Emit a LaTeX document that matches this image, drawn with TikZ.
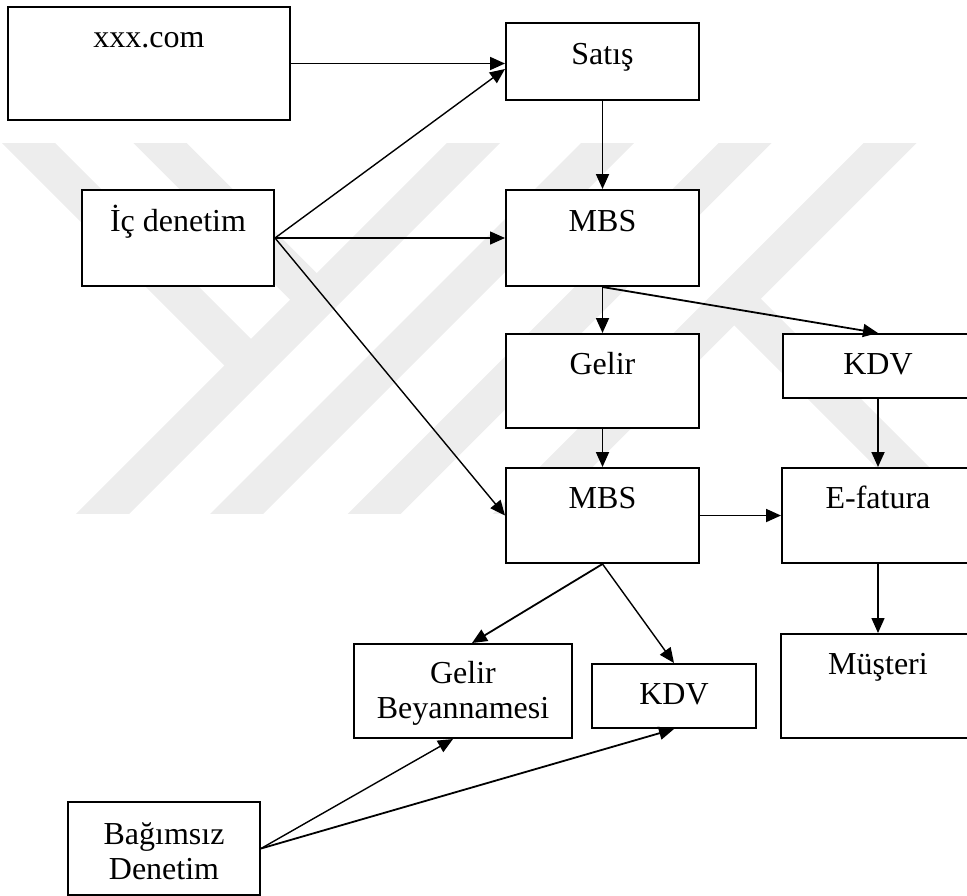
\documentclass[tikz,border=0pt]{standalone}
\usepackage{fontspec}
\setmainfont{Liberation Serif}
\usetikzlibrary{arrows.meta}
\definecolor{wmgray}{gray}{0.93}
\newcommand\stacklbl[2]{\begin{tabular}[t]{@{}c@{}}#1\\#2\end{tabular}}
\begin{document}
\begin{tikzpicture}[x=0.5pt,y=-0.5pt,
  font=\fontsize{16pt}{17.5pt}\selectfont,
  box/.style={draw, fill=white, line width=1pt, inner sep=0pt, anchor=north},
  flow/.style={-{Triangle[length=7.5pt,width=6.5pt]}, line width=0.9pt},
  thinflow/.style={flow, line width=0.7pt},
  band/.style={draw=wmgray, line width=18.75pt}]
\useasboundingbox (0,0) rectangle (967,895);

% background emblem: diagonal light-grey bands
\begin{scope}
  \clip (0,143) rectangle (967,513);
  \draw[band] (83.5,533) -- (493.5,123);
  \draw[band] (217.5,533) -- (627.5,123);
  \draw[band] (355,533) -- (765,123);
  \draw[band] (500,533) -- (910,123);
  \draw[band] (8.5,123) -- (251,365.5);
  \draw[band] (140,123) -- (316.75,299.75);
  \draw[band] (734.25,298.75) -- (1000,564.5);
\end{scope}

% boxes
\node[box, minimum width=141pt, text height=20pt,   text depth=36.5pt] (xxx)   at (149,6)    {xxx.com};
\node[box, minimum width=96.5pt, text height=20.5pt, text depth=18pt]  (satis) at (602.5,22)  {Satış};
\node[box, minimum width=96pt,  text height=20.5pt, text depth=27.5pt] (ic)    at (178,189)  {İç denetim};
\node[box, minimum width=96.5pt, text height=20.5pt, text depth=27.5pt] (mbs1) at (602.5,189) {MBS};
\node[box, minimum width=96.5pt, text height=20pt,   text depth=27pt]  (gelir) at (602.5,333) {Gelir};
\node[box, minimum width=95pt,  text height=20pt,   text depth=12pt]  (kdv1)  at (878,333)   {KDV};
\node[box, minimum width=96.5pt, text height=20pt,  text depth=27.5pt] (mbs2)  at (602.5,467) {MBS};
\node[box, minimum width=96pt,  text height=20pt,   text depth=27.5pt] (efat)  at (878,467)   {E-fatura};
\node[box, minimum width=97pt,  text height=20pt,   text depth=32pt]  (must)  at (878,633)   {Müşteri};
\node[box, minimum width=109pt, text height=19.5pt, text depth=27.5pt] (gb)    at (463,643)   {\stacklbl{Gelir}{Beyannamesi}};
\node[box, minimum width=82pt,  text height=20pt,   text depth=12pt]  (kdv2)  at (674,663)   {KDV};
\node[box, minimum width=96pt,  text height=21pt,   text depth=25.5pt] (bd)    at (164,801)   {\stacklbl{Bağımsız}{Denetim}};

% connectors
\draw[flow] (xxx.east) -- (xxx.east -| satis.west);
\draw[thinflow] (ic.east) -- ([yshift=-3.75pt]satis.west);
\draw[thinflow] (ic.east) -- (mbs1.west);
\draw[thinflow] (ic.east) -- (mbs2.west);
\draw[flow] (satis.south) -- (mbs1.north);
\draw[flow] (mbs1.south) -- (gelir.north);
\draw[flow] (mbs1.south) -- (kdv1.north);
\draw[flow] (gelir.south) -- (mbs2.north);
\draw[flow] (kdv1.south) -- (efat.north);
\draw[flow] (mbs2.east) -- (efat.west);
\draw[thinflow] (efat.south) -- (must.north);
\draw[flow] (mbs2.south) -- ([xshift=4.5pt]gb.north);
\draw[thinflow] (mbs2.south) -- (kdv2.north);
\draw[thinflow] (bd.east) -- ([xshift=-5pt]gb.south);
\draw[flow] (bd.east) -- (kdv2.south);
\end{tikzpicture}
\end{document}
